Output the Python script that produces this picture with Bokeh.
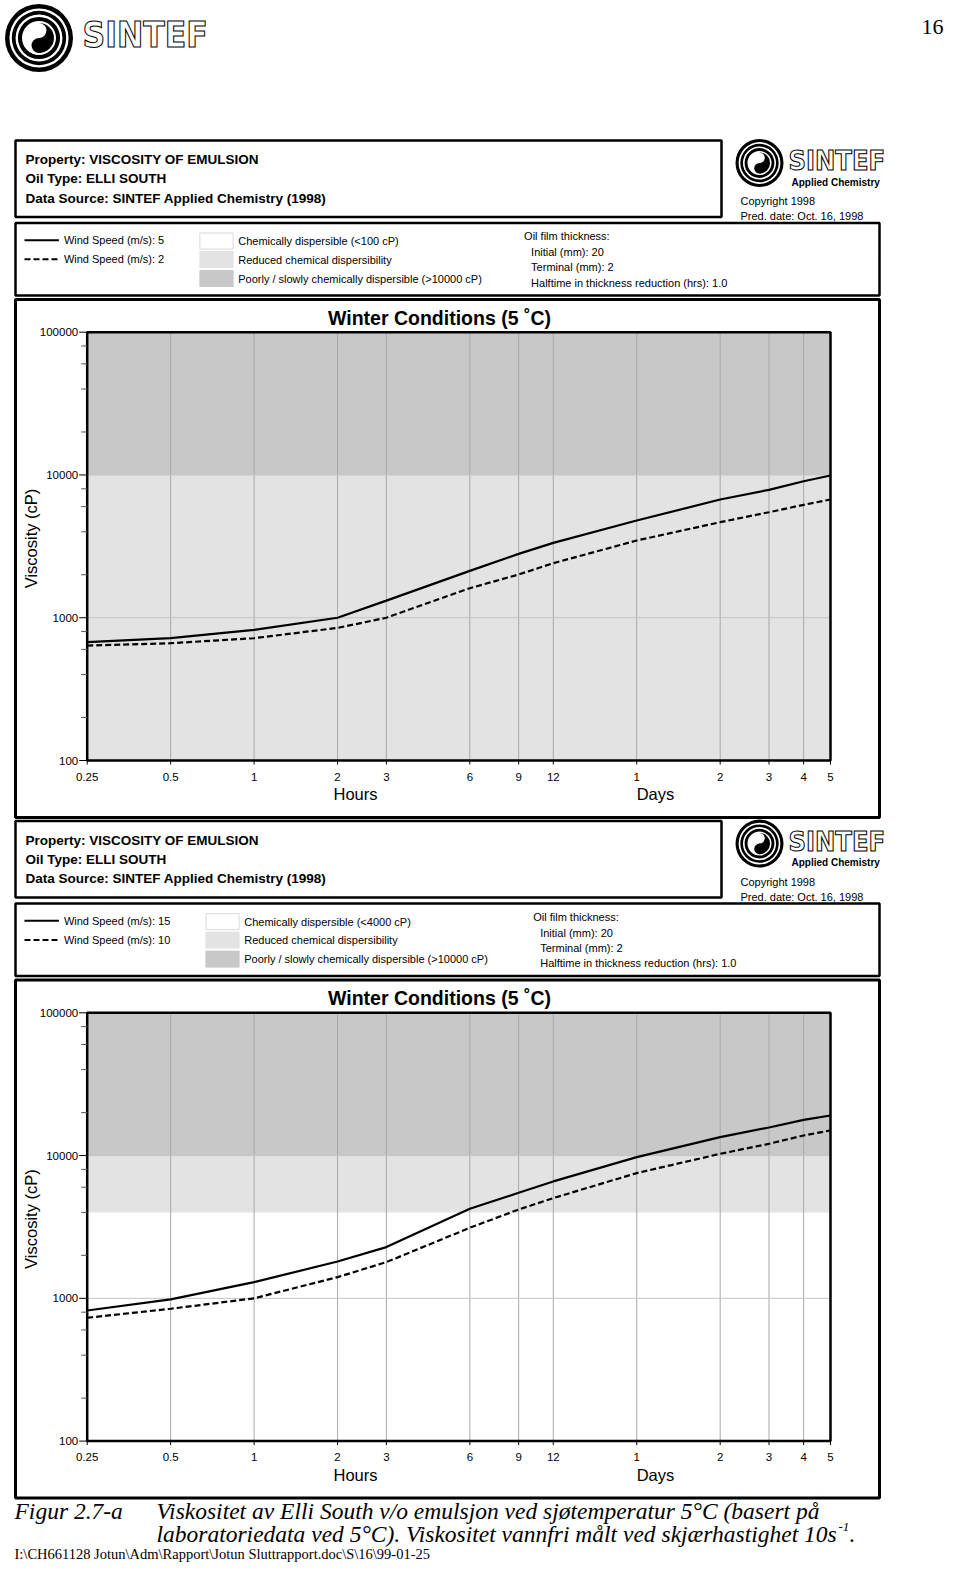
import math
from bokeh.plotting import figure
from bokeh.models import Range1d, LogScale
from bokeh.core.properties import value
from bokeh.embed import file_html
from bokeh.resources import INLINE

# ---------------- data ----------------
hours = [0.25, 0.5, 1, 2, 3, 6, 9, 12, 24, 48, 72, 96, 120]
hour_tick_labels = ["0.25", "0.5", "1", "2", "3", "6", "9", "12", "1", "2", "3", "4", "5"]
visc_ticks = [100, 1000, 10000, 100000]
visc_tick_labels = ["100", "1000", "10000", "100000"]

# chart A: wind speed 5 m/s (solid) and 2 m/s (dashed)
wind_a = ["5", "2"]
visc_a_ws5 = [675, 719, 822, 1000, 1318, 2130, 2800, 3345, 4795, 6730, 7870, 9040, 9910]
visc_a_ws2 = [638, 663, 719, 849, 1000, 1610, 2008, 2410, 3475, 4670, 5485, 6180, 6730]
band_a = [100, 10000, 100000]          # reduced dispersibility / poorly dispersible limits
disp_a_label = "Chemically dispersible (<100 cP)"

# chart B: wind speed 15 m/s (solid) and 10 m/s (dashed)
wind_b = ["15", "10"]
visc_b_ws15 = [822, 983, 1298, 1811, 2285, 4240, 5485, 6590, 9750, 13460, 15730, 17800, 19080]
visc_b_ws10 = [731, 845, 1000, 1408, 1793, 3120, 4190, 5035, 7540, 10290, 12090, 13830, 15000]
band_b = [4000, 10000, 100000]
disp_b_label = "Chemically dispersible (<4000 cP)"

# ---------------- styles ----------------
COND = "DejaVu Sans Condensed"
SANS = "Liberation Sans"
SERIF = "Liberation Serif"
LIGHT = "#e3e3e3"
DARK = "#c8c8c8"
GRID = "#a8a8a8"
W, H = 944, 1563

p = figure(width=W, height=H, x_range=Range1d(0, W), y_range=Range1d(H, 0),
           x_axis_type=None, y_axis_type=None, output_backend="svg", toolbar_location=None,
           min_border=0, outline_line_color=None, background_fill_color="white",
           border_fill_color="white")
p.grid.visible = False

# log scales for the chart areas
PX_L, PX_R = 86.7, 830.0
FRAME_TOP, FRAME_BOT = 331.7, 760.0
DY2 = 680.6
kx = (math.log10(hours[-1]) - math.log10(hours[0])) / (PX_R - PX_L)
p.extra_x_ranges = {"t": Range1d(10 ** (math.log10(hours[0]) - PX_L * kx),
                                 10 ** (math.log10(hours[-1]) + (W - PX_R) * kx))}
p.extra_x_scales = {"t": LogScale()}
ky = 3.0 / (FRAME_BOT - FRAME_TOP)
yranges, yscales = {}, {}
for name, dy in (("v1", 0.0), ("v2", DY2)):
    yranges[name] = Range1d(10 ** (2 - (H - (FRAME_BOT + dy)) * ky),
                            10 ** (5 + (FRAME_TOP + dy) * ky))
    yscales[name] = LogScale()
p.extra_y_ranges = yranges
p.extra_y_scales = yscales


def txt(x, y, s, size, font=SANS, style="normal", align="left", baseline="middle",
        color="black", angle=0.0, xr="default", yr="default"):
    p.text(x=[x], y=[y], text=[s], text_font=value(font), text_font_size=value(f"{size}px"),
           text_font_style=style, text_align=align, text_baseline=baseline,
           text_color=color, angle=angle, x_range_name=xr, y_range_name=yr)


def outlined(x, y, s, size):
    try:
        p.text(x=[x], y=[y], text=[s], text_font=value(COND), text_font_size=value(f"{size}px"),
               text_font_style="bold", text_align="left", text_baseline="middle",
               text_color="white", text_outline_color="black")
    except Exception:
        txt(x, y, s, size, font=COND, style="bold")


def box(l, r, t, b, w=2.5):
    p.quad(left=[l], right=[r], top=[t], bottom=[b], fill_color=None, line_color="black",
           line_width=w)


def logo(cx, cy, r):
    p.circle(x=[cx], y=[cy], radius=r, fill_color="black", line_color=None)
    p.annulus(x=[cx], y=[cy], inner_radius=0.80 * r, outer_radius=0.87 * r,
              fill_color="white", line_color=None)
    p.annulus(x=[cx], y=[cy], inner_radius=0.62 * r, outer_radius=0.69 * r,
              fill_color="white", line_color=None)
    p.circle(x=[cx], y=[cy], radius=0.50 * r, fill_color="white", line_color=None)
    p.wedge(x=[cx], y=[cy], radius=0.44 * r, start_angle=-math.pi / 2, end_angle=math.pi / 2,
            fill_color="black", line_color=None)
    p.circle(x=[cx], y=[cy - 0.22 * r], radius=0.22 * r, fill_color="white", line_color=None)
    p.circle(x=[cx], y=[cy + 0.22 * r], radius=0.22 * r, fill_color="black", line_color=None)


# ---------------- page header ----------------
logo(38.5, 37.5, 34)
outlined(82, 34, "SINTEF", 35)
txt(943, 26, "16", 22, font=SERIF, align="right")


def panel(dy, wind, solid, dashed, bands, disp_label, sw_x, oil_x, yr):
    # header box
    box(15, 721, 140 + dy, 216.5 + dy)
    txt(25, 159 + dy, "Property: VISCOSITY OF EMULSION", 13.5, style="bold")
    txt(25, 178 + dy, "Oil Type: ELLI SOUTH", 13.5, style="bold")
    txt(25, 197.5 + dy, "Data Source: SINTEF Applied Chemistry (1998)", 13.5, style="bold")
    logo(759, 162.5 + dy, 24)
    outlined(788, 160 + dy, "SINTEF", 27)
    txt(791, 181.5 + dy, "Applied Chemistry", 10, style="bold")
    txt(740, 200.5 + dy, "Copyright 1998", 11)
    txt(740, 215.5 + dy, "Pred. date: Oct. 16, 1998", 11)

    # legend box
    box(15, 879, 222.5 + dy, 295 + dy)
    p.line(x=[24, 58.4], y=[239.7 + dy] * 2, line_color="black", line_width=2)
    p.line(x=[24, 58.4], y=[258.8 + dy] * 2, line_color="black", line_width=2, line_dash="6 3")
    txt(63.4, 239.7 + dy, f"Wind Speed (m/s): {wind[0]}", 11)
    txt(63.4, 258.8 + dy, f"Wind Speed (m/s): {wind[1]}", 11)
    rows = [240.5 + dy, 259 + dy, 278 + dy]
    p.quad(left=[sw_x] * 3, right=[sw_x + 33.2] * 3, top=[r - 8 for r in rows],
           bottom=[r + 8 for r in rows], fill_color=["white", LIGHT, DARK],
           line_color=["#d9d9d9", LIGHT, DARK], line_width=1)
    txt(sw_x + 38.3, rows[0], disp_label, 11)
    txt(sw_x + 38.3, rows[1], "Reduced chemical dispersibility", 11)
    txt(sw_x + 38.3, rows[2], "Poorly / slowly chemically dispersible (>10000 cP)", 11)
    txt(oil_x, 235.6 + dy, "Oil film thickness:", 11)
    txt(oil_x + 7, 251.8 + dy, "Initial (mm): 20", 11)
    txt(oil_x + 7, 266.9 + dy, "Terminal (mm): 2", 11)
    txt(oil_x + 7, 282 + dy, "Halftime in thickness reduction (hrs):   1.0", 11)

    # chart panel
    box(15, 879, 299 + dy, 817 + dy, w=3)
    txt(439, 317 + dy, "Winter Conditions (5 \u02daC)", 19.5, style="bold", align="center")

    n = len(hours)
    lo, hi = visc_ticks[0], visc_ticks[-1]
    p.quad(left=[hours[0]] * 2, right=[hours[-1]] * 2, bottom=bands[:2], top=bands[1:],
           fill_color=[LIGHT, DARK], line_color=None, x_range_name="t", y_range_name=yr)
    p.segment(x0=hours, x1=hours, y0=[lo] * n, y1=[hi] * n, line_color=GRID, line_width=1,
              x_range_name="t", y_range_name=yr)
    mids = visc_ticks[1:-1]
    p.segment(x0=[hours[0]] * len(mids), x1=[hours[-1]] * len(mids), y0=mids, y1=mids,
              line_color="#c4c4c4", line_width=1, x_range_name="t", y_range_name=yr)
    p.line(x=hours, y=solid, line_color="black", line_width=2.2,
           x_range_name="t", y_range_name=yr)
    p.line(x=hours, y=dashed, line_color="black", line_width=2.2, line_dash="6 3",
           x_range_name="t", y_range_name=yr)
    p.quad(left=[hours[0]], right=[hours[-1]], bottom=[lo], top=[hi], fill_color=None,
           line_color="black", line_width=2.5, x_range_name="t", y_range_name=yr)

    # x ticks and labels
    fb = FRAME_BOT + dy
    p.segment(x0=hours, x1=hours, y0=[fb] * n, y1=[fb + 4] * n, line_color="black",
              line_width=1, x_range_name="t")
    for h, lab in zip(hours, hour_tick_labels):
        txt(h, fb + 16, lab, 11.5, align="center", xr="t")
    txt(355, fb + 33.5, "Hours", 16.5, align="center")
    txt(655, fb + 33.5, "Days", 16.5, align="center")

    # y ticks and labels
    m = len(visc_ticks)
    p.segment(x0=[PX_L - 8] * m, x1=[PX_L] * m, y0=visc_ticks, y1=visc_ticks,
              line_color="black", line_width=1, y_range_name=yr)
    minor = [d * k for d in visc_ticks[:-1] for k in (2, 4, 6, 8)]
    p.segment(x0=[PX_L - 6] * len(minor), x1=[PX_L] * len(minor), y0=minor, y1=minor,
              line_color="#555555", line_width=1, y_range_name=yr)
    for v, lab in zip(visc_ticks, visc_tick_labels):
        txt(PX_L - 9, v, lab, 11.5, align="right", yr=yr)
    txt(30, 538 + dy, "Viscosity (cP)", 16.5, align="center", angle=math.pi / 2)


panel(0.0, wind_a, visc_a_ws5, visc_a_ws2, band_a, disp_a_label, 199.4, 523.6, "v1")
panel(DY2, wind_b, visc_b_ws15, visc_b_ws10, band_b, disp_b_label, 205.4, 532.7, "v2")

# ---------------- caption ----------------
txt(14, 1510, "Figur 2.7-a", 23.5, font=SERIF, style="italic")
txt(156, 1510, "Viskositet av Elli South v/o emulsjon ved sj\u00f8temperatur 5\u00b0C (basert p\u00e5",
    23.5, font=SERIF, style="italic")
txt(156, 1533.5,
    "laboratoriedata ved 5\u00b0C). Viskositet vannfri m\u00e5lt ved skj\u00e6rhastighet 10s",
    23.5, font=SERIF, style="italic")
txt(838, 1526, "-1", 13, font=SERIF, style="italic")
txt(849, 1533.5, ".", 23.5, font=SERIF, style="italic")
txt(14, 1553, "I:\\CH661128 Jotun\\Adm\\Rapport\\Jotun Sluttrapport.doc\\S\\16\\99-01-25",
    14.5, font=SERIF)

open("out.html", "w").write(file_html(p, INLINE))
